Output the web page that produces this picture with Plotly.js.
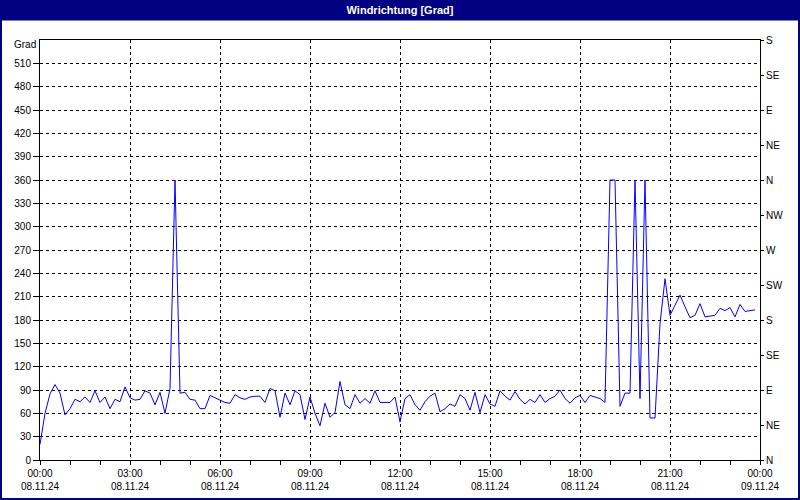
<!DOCTYPE html>
<html>
<head>
<meta charset="utf-8">
<script src="https://cdn.plot.ly/plotly-3.0.1.min.js"></script>
<style>
  html, body { margin: 0; padding: 0; background: #ffffff; }
  #chart { width: 800px; height: 500px; }
</style>
</head>
<body>
<div id="chart"></div>
<script>
// ---- data (10-minute readings, 08.11.24 00:00 .. 23:50) ----
const startTime = "2024-11-08T00:00:00";
const stepMinutes = 10;
const windDir = [
  20, 60, 85, 97, 86, 58, 66, 78, 75, 81,
  74, 89, 74, 81, 66, 78, 75, 94, 80, 77,
  78, 89, 86, 71, 87, 60, 92, 360, 86, 87,
  78, 77, 66, 66, 83, 80, 77, 74, 73, 84,
  80, 78, 81, 82, 82, 74, 92, 89, 55, 86,
  71, 89, 84, 52, 81, 60, 44, 73, 55, 61,
  101, 71, 66, 84, 73, 79, 73, 89, 74, 74,
  74, 81, 49, 79, 84, 71, 64, 75, 82, 86,
  62, 66, 72, 69, 84, 79, 64, 87, 61, 84,
  72, 69, 89, 82, 77, 88, 78, 72, 78, 74,
  84, 74, 79, 82, 90, 79, 73, 80, 83, 74,
  83, 81, 79, 74, 360, 360, 69, 86, 86, 360,
  79, 360, 54, 54, 175, 233, 186, 199, 212, 197,
  183, 186, 201, 184, 185, 186, 195, 192, 196, 184,
  200, 191, 192, 193
];
const gradTicks = [0, 30, 60, 90, 120, 150, 180, 210, 240, 270, 300, 330, 360, 390, 420, 450, 480, 510];
const compassVals = [0, 45, 90, 135, 180, 225, 270, 315, 360, 405, 450, 495, 540];
const compassLabels = ["N", "NE", "E", "SE", "S", "SW", "W", "NW", "N", "NE", "E", "SE", "S"];
const xRange = ["2024-11-08 00:00", "2024-11-09 00:00"];
const titleText = "Windrichtung [Grad]";
const unitLabel = "Grad";

// build timestamps
function fmt(d) {
  const p = n => String(n).padStart(2, "0");
  return d.getFullYear() + "-" + p(d.getMonth() + 1) + "-" + p(d.getDate()) + " " + p(d.getHours()) + ":" + p(d.getMinutes());
}
const t0 = new Date(startTime);
const times = windDir.map((_, i) => fmt(new Date(t0.getTime() + i * stepMinutes * 60000)));

// ---- geometry helpers (pixel -> paper) ----
const W = 800, H = 500, ML = 40, MR = 40, MT = 40, MB = 40;
const PW = W - ML - MR, PH = H - MT - MB;
const px = x => (x - ML) / PW;
const py = y => (H - MB - y) / PH;

const navy = "#000080";
const fontFam = "'Liberation Sans', Arial, sans-serif";

const traces = [
  {
    x: times, y: windDir, type: "scatter", mode: "lines",
    line: { color: "#0000ff", width: 1 },
    hoverinfo: "x+y", showlegend: false
  },
  {
    x: [times[0]], y: [0], yaxis: "y2", type: "scatter", mode: "none",
    hoverinfo: "skip", showlegend: false
  }
];

const layout = {
  width: W, height: H,
  margin: { l: ML, r: MR, t: MT, b: MB, pad: 0 },
  paper_bgcolor: "#ffffff",
  plot_bgcolor: "#ffffff",
  font: { family: fontFam, size: 10, color: "#000000" },
  showlegend: false,
  title: {
    text: "<b>" + titleText + "</b>",
    font: { family: fontFam, size: 11, color: "#ffffff" },
    x: 0.5, xanchor: "center", xref: "container",
    y: 1 - 10.5 / H, yanchor: "middle", yref: "container"
  },
  xaxis: {
    type: "date",
    range: xRange,
    tick0: xRange[0],
    dtick: 3 * 3600000,
    tickformat: "%H:%M<br>%d.%m.%y",
    ticks: "outside", ticklen: 4, tickcolor: "#000000", tickwidth: 1,
    minor: { dtick: 3600000, ticks: "outside", ticklen: 4, tickcolor: "#000000", showgrid: false },
    showline: true, linecolor: "#000000", linewidth: 1, mirror: true,
    showgrid: true, gridcolor: "#000000", gridwidth: 1, griddash: "3px,3px",
    zeroline: false, automargin: false, fixedrange: true
  },
  yaxis: {
    range: [0, 540],
    tickmode: "array", tickvals: gradTicks,
    ticks: "outside", ticklen: 6, tickcolor: "#000000",
    showline: true, linecolor: "#000000", linewidth: 1,
    showgrid: true, gridcolor: "#000000", gridwidth: 1, griddash: "3px,3px",
    zeroline: false, automargin: false, fixedrange: true
  },
  yaxis2: {
    overlaying: "y", side: "right",
    range: [0, 540],
    tickmode: "array", tickvals: compassVals, ticktext: compassLabels,
    ticks: "outside", ticklen: 3, tickcolor: "#000000",
    showline: true, linecolor: "#000000", linewidth: 1,
    showgrid: false, zeroline: false, automargin: false, fixedrange: true
  },
  annotations: [
    {
      text: unitLabel, xref: "paper", yref: "paper",
      x: px(38), y: py(45), xanchor: "right", yanchor: "middle",
      showarrow: false, font: { family: fontFam, size: 10, color: "#000000" }
    }
  ],
  shapes: [
    {
      type: "rect", xref: "paper", yref: "paper", layer: "below",
      x0: px(0), x1: px(800), y0: py(0), y1: py(20.5),
      fillcolor: navy, line: { width: 0 }
    },
    {
      type: "rect", xref: "paper", yref: "paper", layer: "above",
      x0: px(1), x1: px(799), y0: py(1), y1: py(499),
      fillcolor: "rgba(0,0,0,0)", line: { color: navy, width: 2 }
    }
  ]
};

Plotly.newPlot("chart", traces, layout, { displayModeBar: false, staticPlot: true });
</script>
</body>
</html>
